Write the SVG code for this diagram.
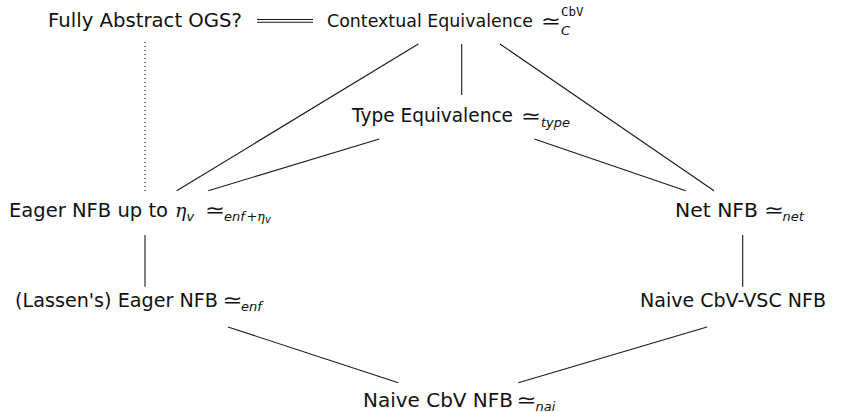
<svg xmlns="http://www.w3.org/2000/svg" width="844" height="412" viewBox="0 0 844 412">
  <style>
    .lbl { font-family: "DejaVu Sans", "Liberation Sans", sans-serif; font-size: 19px; fill: #111; }
    .sym { font-family: "DejaVu Sans", sans-serif; font-size: 20px; fill: #111; letter-spacing: -4px; }
    .sub { font-family: "DejaVu Sans", sans-serif; font-size: 13px; font-style: italic; fill: #111; }
    .tt { font-family: "DejaVu Sans Mono", "Liberation Mono", monospace; font-size: 12.5px; fill: #111; }
    .eta { font-family: "DejaVu Serif", "Liberation Serif", serif; font-style: italic; font-size: 19px; fill: #111; }
    .eta-s { font-family: "DejaVu Serif", "Liberation Serif", serif; font-style: italic; font-size: 13px; fill: #111; }
    .edge { stroke: #1a1a1a; stroke-width: 1.1; fill: none; }
    .dotted { stroke: #222; stroke-width: 1.2; stroke-dasharray: 1 3; fill: none; }
  </style>

  <!-- connectors -->
  <g id="connectors">
    <line class="edge" x1="257" y1="19.5" x2="313" y2="19.5"/>
    <line class="edge" x1="257" y1="22.3" x2="313" y2="22.3"/>
    <line class="dotted" x1="145" y1="42" x2="145" y2="191"/>
    <line class="edge" x1="461.7" y1="44" x2="461.7" y2="95"/>
    <line class="edge" x1="418.3" y1="44" x2="176.7" y2="190.7"/>
    <line class="edge" x1="379.3" y1="139" x2="208.3" y2="190.7"/>
    <line class="edge" x1="500" y1="44" x2="714" y2="190.7"/>
    <line class="edge" x1="534.3" y1="139" x2="685.7" y2="190.7"/>
    <line class="edge" x1="145" y1="235" x2="145" y2="286.7"/>
    <line class="edge" x1="742.7" y1="235" x2="742.7" y2="286.7"/>
    <line class="edge" x1="228" y1="327" x2="398.3" y2="382.7"/>
    <line class="edge" x1="707" y1="327" x2="518.3" y2="382.7"/>
  </g>

  <!-- nodes -->
  <g id="fully-abstract">
    <text class="lbl" x="48" y="27" textLength="194" lengthAdjust="spacingAndGlyphs">Fully Abstract OGS?</text>
  </g>

  <g id="contextual">
    <text class="lbl" x="327" y="27" style="font-size:18px" textLength="206" lengthAdjust="spacingAndGlyphs">Contextual Equivalence</text>
    <text class="sym" transform="translate(541,27.5) scale(1.2,1)">≃</text>
    <text class="tt" x="561" y="16">CbV</text>
    <text class="sub" x="561" y="35">C</text>
  </g>

  <g id="type-eq">
    <text class="lbl" x="352" y="122" textLength="161" lengthAdjust="spacingAndGlyphs">Type Equivalence</text>
    <text class="sym" transform="translate(521,122.5) scale(1.2,1)">≃</text>
    <text class="sub" x="541" y="127">type</text>
  </g>

  <g id="eager-eta">
    <text class="lbl" x="9" y="216.5" textLength="159" lengthAdjust="spacingAndGlyphs">Eager NFB up to</text>
    <text class="eta" x="175" y="216.5">η</text>
    <text class="sub" x="186.5" y="220.5">v</text>
    <text class="sym" transform="translate(205,217) scale(1.2,1)">≃</text>
    <text class="sub" x="224" y="220.5">enf</text>
    <text class="sub" x="246.5" y="220.5" style="font-style:normal">+</text>
    <text class="eta-s" x="257" y="220.5">η</text>
    <text class="sub" x="265" y="223" style="font-size:10px">v</text>
  </g>

  <g id="net">
    <text class="lbl" x="675" y="216.5" textLength="83" lengthAdjust="spacingAndGlyphs">Net NFB</text>
    <text class="sym" transform="translate(764,217) scale(1.2,1)">≃</text>
    <text class="sub" x="782.5" y="220.5">net</text>
  </g>

  <g id="lassen">
    <text class="lbl" x="15" y="306.5" textLength="203" lengthAdjust="spacingAndGlyphs">(Lassen's) Eager NFB</text>
    <text class="sym" transform="translate(222.5,307) scale(1.2,1)">≃</text>
    <text class="sub" x="241" y="310.5">enf</text>
  </g>

  <g id="naive-vsc">
    <text class="lbl" x="640" y="306.5" textLength="186" lengthAdjust="spacingAndGlyphs">Naive CbV-VSC NFB</text>
  </g>

  <g id="naive">
    <text class="lbl" x="363" y="406.5" textLength="150" lengthAdjust="spacingAndGlyphs">Naive CbV NFB</text>
    <text class="sym" transform="translate(516.5,407) scale(1.2,1)">≃</text>
    <text class="sub" x="535.5" y="410.5">nai</text>
  </g>
</svg>
